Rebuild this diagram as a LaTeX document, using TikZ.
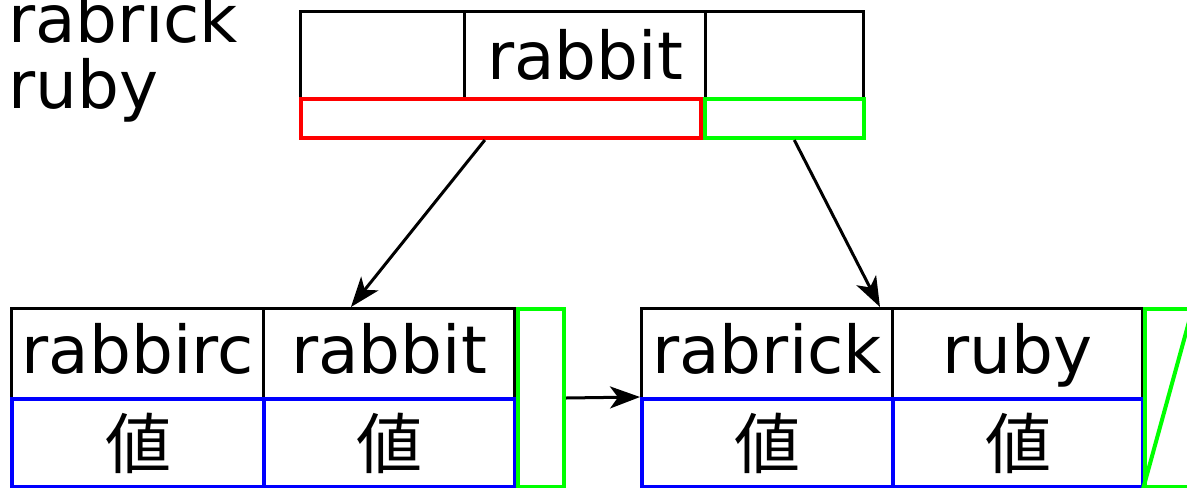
\documentclass[tikz,border=0pt]{standalone}
\usepackage{fontspec}
\setmainfont{DejaVu Sans}
\newfontfamily\jpfont{Noto Sans CJK JP}
\usetikzlibrary{arrows.meta,calc}

\begin{document}
\begin{tikzpicture}[x=0.5pt,y=-0.5pt,
    every node/.style={font=\fontsize{33}{40}\selectfont},
    cell/.style={draw,line width=1.6pt,anchor=north west,inner sep=0pt,
      minimum height=45pt,text height=25pt,text depth=5pt},
    val/.style={draw=blue,line width=2pt,anchor=north west,inner sep=0pt,
      minimum height=44pt,font=\jpfont\fontsize{33}{40}\selectfont},
    ptr/.style={line width=2pt,anchor=north west,inner sep=0pt,minimum height=19.5pt},
    nxt/.style={draw=green,line width=2pt,anchor=north west,inner sep=0pt,
      minimum width=23pt,minimum height=89pt},
    link/.style={-{Stealth[length=15pt,width=11pt,inset=4pt]},line width=1.5pt}]
  \useasboundingbox (0,0) rectangle (1187,487);
  \clip (0,0) rectangle (1187,487);

  % keys being looked up
  \node[anchor=base west,inner sep=0pt] (qa) at (8,42) {rabrick};
  \node[anchor=base west,inner sep=0pt] (qb) at (8,108) {ruby};

  % root node
  \node[cell,minimum width=82pt,minimum height=43.5pt] (tk1) at (299,10) {};
  \node[cell,minimum width=120.5pt,minimum height=43.5pt,text height=24.5pt,text depth=0pt] (tk2) at (463,10) {rabbit};
  \node[cell,minimum width=79pt,minimum height=43.5pt] (tk3) at (704,10) {};
  \node[ptr,draw=red,minimum width=200pt] (tleft) at (299,97) {};
  \node[ptr,draw=green,minimum width=79.5pt] (tright) at (703,97) {};

  % left leaf
  \node[cell,minimum width=126pt] (lk1) at (10,307) {rabbirc};
  \node[cell,minimum width=125.5pt] (lk2) at (262,307) {rabbit};
  \node[val,minimum width=126pt] (lv1) at (10,397) {値};
  \node[val,minimum width=125.5pt] (lv2) at (262,397) {値};
  \node[nxt] (lnext) at (516,307) {};

  % right leaf
  \node[cell,minimum width=125.5pt] (rk1) at (640,307) {rabrick};
  \node[cell,minimum width=125pt] (rk2) at (891,307) {ruby};
  \node[val,minimum width=125.5pt] (rv1) at (640,397) {値};
  \node[val,minimum width=125pt] (rv2) at (891,397) {値};
  \node[nxt] (rnext) at (1143,307) {};
  \draw[green,line width=2pt] (rnext.south west) -- (rnext.north east);

  % pointers
  \draw[link] ($(tleft.south west)!0.46!(tleft.south east)$) -- ($(lk2.north west)!0.35!(lk2.north east)$);
  \draw[link] ($(tright.south west)!0.56!(tright.south east)$) -- ($(rk1.north west)!0.944!(rk1.north east)$);
  \draw[link] (lnext.east) -- (rv1.north west);
\end{tikzpicture}
\end{document}
